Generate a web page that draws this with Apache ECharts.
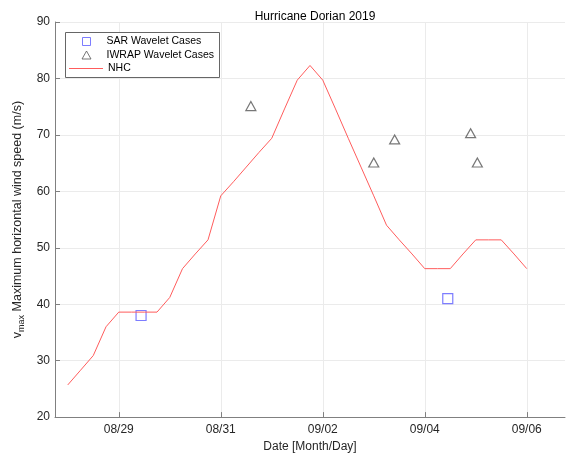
<!DOCTYPE html>
<html>
<head>
<meta charset="utf-8">
<script src="https://cdn.jsdelivr.net/npm/echarts@6/dist/echarts.min.js"></script>
<style>
  html, body { margin: 0; padding: 0; background: #fff; }
  #chart { width: 567px; height: 458px; }
</style>
</head>
<body>
<div id="chart"></div>
<script>
  // NHC best track, 6-hourly (m/s)
  var nhcTimes = ['08-28 00:00', '08-28 06:00', '08-28 12:00', '08-28 18:00',
    '08-29 00:00', '08-29 06:00', '08-29 12:00', '08-29 18:00',
    '08-30 00:00', '08-30 06:00', '08-30 12:00', '08-30 18:00',
    '08-31 00:00', '08-31 06:00', '08-31 12:00', '08-31 18:00',
    '09-01 00:00', '09-01 06:00', '09-01 12:00', '09-01 18:00',
    '09-02 00:00', '09-02 06:00', '09-02 12:00', '09-02 18:00',
    '09-03 00:00', '09-03 06:00', '09-03 12:00', '09-03 18:00',
    '09-04 00:00', '09-04 06:00', '09-04 12:00', '09-04 18:00',
    '09-05 00:00', '09-05 06:00', '09-05 12:00', '09-05 18:00',
    '09-06 00:00']
  var nhcValues = [25.7, 28.3, 30.9, 36.0,
    38.6, 38.6, 38.6, 38.6,
    41.2, 46.3, 48.9, 51.4,
    59.2, 61.7, 64.3, 66.9,
    69.4, 74.6, 79.7, 82.3,
    79.7, 74.6, 69.4, 64.3,
    59.2, 54.0, 51.4, 48.9,
    46.3, 46.3, 46.3, 48.9,
    51.4, 51.4, 51.4, 48.9,
    46.3]

  var sarTimes = ['08-29 10:30', '09-04 10:50']
  var sarValues = [38.0, 41.0]

  var iwrapTimes = ['08-31 14:10', '09-03 00:00', '09-03 09:50', '09-04 21:35', '09-05 00:45']
  var iwrapValues = [75.1, 65.1, 69.2, 70.3, 65.1]

  var xTickDates = ['08-29 00:00', '08-31 00:00', '09-02 00:00', '09-04 00:00', '09-06 00:00']
  var xMinDate = '08-27 18:00'
  var xMaxDate = '09-06 18:00'

  var base = Date.UTC(2019, 7, 29)

  // 'MM-DD HH:mm' -> days since 08/29 00:00
  function toDays(s) {
    var p = s.split(/[- :]/)
    var t = Date.UTC(2019, +p[0] - 1, +p[1], +p[2], +p[3])
    return (t - base) / 86400000
  }
  function pairs(times, values) {
    return times.map(function (t, i) { return [toDays(t), values[i]] })
  }
  function fmtDay(v) {
    var d = new Date(base + v * 86400000)
    var mm = ('0' + (d.getUTCMonth() + 1)).slice(-2)
    var dd = ('0' + d.getUTCDate()).slice(-2)
    return mm + '/' + dd
  }

  var font = '"Liberation Sans", Arial, Helvetica, sans-serif'
  var axisColor = '#808080'
  var textColor = '#262626'
  var xTicks = xTickDates.map(toDays)

  var legendText = { fontSize: 10.5, color: '#000', lineHeight: 13, fontFamily: font }
  // one legend per entry so the markers keep their own size, framed by one box
  function legendRow(name, top, left, w, h, pad, itemStyle) {
    return {
      data: [name],
      left: left,
      top: top,
      padding: 0,
      itemWidth: w,
      itemHeight: h,
      selectedMode: false,
      itemStyle: itemStyle,
      lineStyle: { width: 1 },
      textStyle: Object.assign({ padding: [0, 0, 0, pad] }, legendText)
    }
  }

  var chart = echarts.init(document.getElementById('chart'))
  chart.setOption({
    animation: false,
    textStyle: { fontFamily: font },
    title: {
      text: 'Hurricane Dorian 2019',
      left: 310,
      top: 6,
      textAlign: 'center',
      textStyle: { fontSize: 12, fontWeight: 'normal', color: '#000', fontFamily: font }
    },
    grid: { left: 55, right: 2, top: 22, bottom: 40 },
    graphic: [{
      type: 'rect',
      z: 3,
      shape: { x: 65.5, y: 32.5, width: 154, height: 45 },
      style: { fill: '#fff', stroke: '#666', lineWidth: 1 }
    }],
    legend: [
      legendRow('SAR Wavelet Cases', 35, 82, 8, 8, 11, { borderWidth: 1 }),
      legendRow('IWRAP Wavelet Cases', 48.5, 81.5, 9, 8, 10.5, { borderWidth: 1 }),
      legendRow('NHC', 62, 68.5, 34, 9, 0, { opacity: 0 })
    ],
    xAxis: {
      type: 'value',
      min: toDays(xMinDate),
      max: toDays(xMaxDate),
      name: 'Date [Month/Day]',
      nameLocation: 'middle',
      nameGap: 23,
      nameTextStyle: { fontSize: 12, color: textColor, fontFamily: font },
      axisLine: { onZero: false, lineStyle: { color: axisColor, width: 1 } },
      axisTick: { inside: true, length: 5, customValues: xTicks, lineStyle: { color: axisColor } },
      axisLabel: { customValues: xTicks, formatter: fmtDay, fontSize: 12, color: textColor, margin: 7 },
      splitLine: { show: true, lineStyle: { color: '#ebebeb', width: 1 } }
    },
    yAxis: {
      type: 'value',
      min: 20,
      max: 90,
      interval: 10,
      name: '{v|v}{sub|max} Maximum horizontal wind speed (m/s)',
      nameLocation: 'middle',
      nameGap: 25,
      nameTextStyle: {
        fontSize: 12.5, color: textColor, fontFamily: font,
        rich: {
          v: { fontSize: 12.5, color: textColor, fontFamily: font },
          sub: { fontSize: 9, color: textColor, fontFamily: font, padding: [8, 0, 0, 0] }
        }
      },
      axisLine: { show: true, onZero: false, lineStyle: { color: axisColor, width: 1 } },
      axisTick: { show: true, inside: true, length: 5, lineStyle: { color: axisColor } },
      axisLabel: { fontSize: 12, color: textColor, margin: 5 },
      splitLine: { show: true, lineStyle: { color: '#ebebeb', width: 1 } }
    },
    series: [
      {
        name: 'NHC',
        type: 'line',
        data: pairs(nhcTimes, nhcValues),
        showSymbol: false,
        symbol: 'none',
        lineStyle: { color: '#ff5c5c', width: 1 },
        itemStyle: { color: '#ff5c5c' }
      },
      {
        name: 'SAR Wavelet Cases',
        type: 'scatter',
        data: pairs(sarTimes, sarValues),
        symbol: 'rect',
        symbolSize: 10,
        itemStyle: { color: 'rgba(0,0,0,0)', borderColor: '#5c5cff', borderWidth: 1.2 }
      },
      {
        name: 'IWRAP Wavelet Cases',
        type: 'scatter',
        data: pairs(iwrapTimes, iwrapValues),
        symbol: 'triangle',
        symbolSize: [10, 9],
        itemStyle: { color: 'rgba(0,0,0,0)', borderColor: '#555', borderWidth: 1.2 }
      }
    ]
  })
</script>
</body>
</html>
